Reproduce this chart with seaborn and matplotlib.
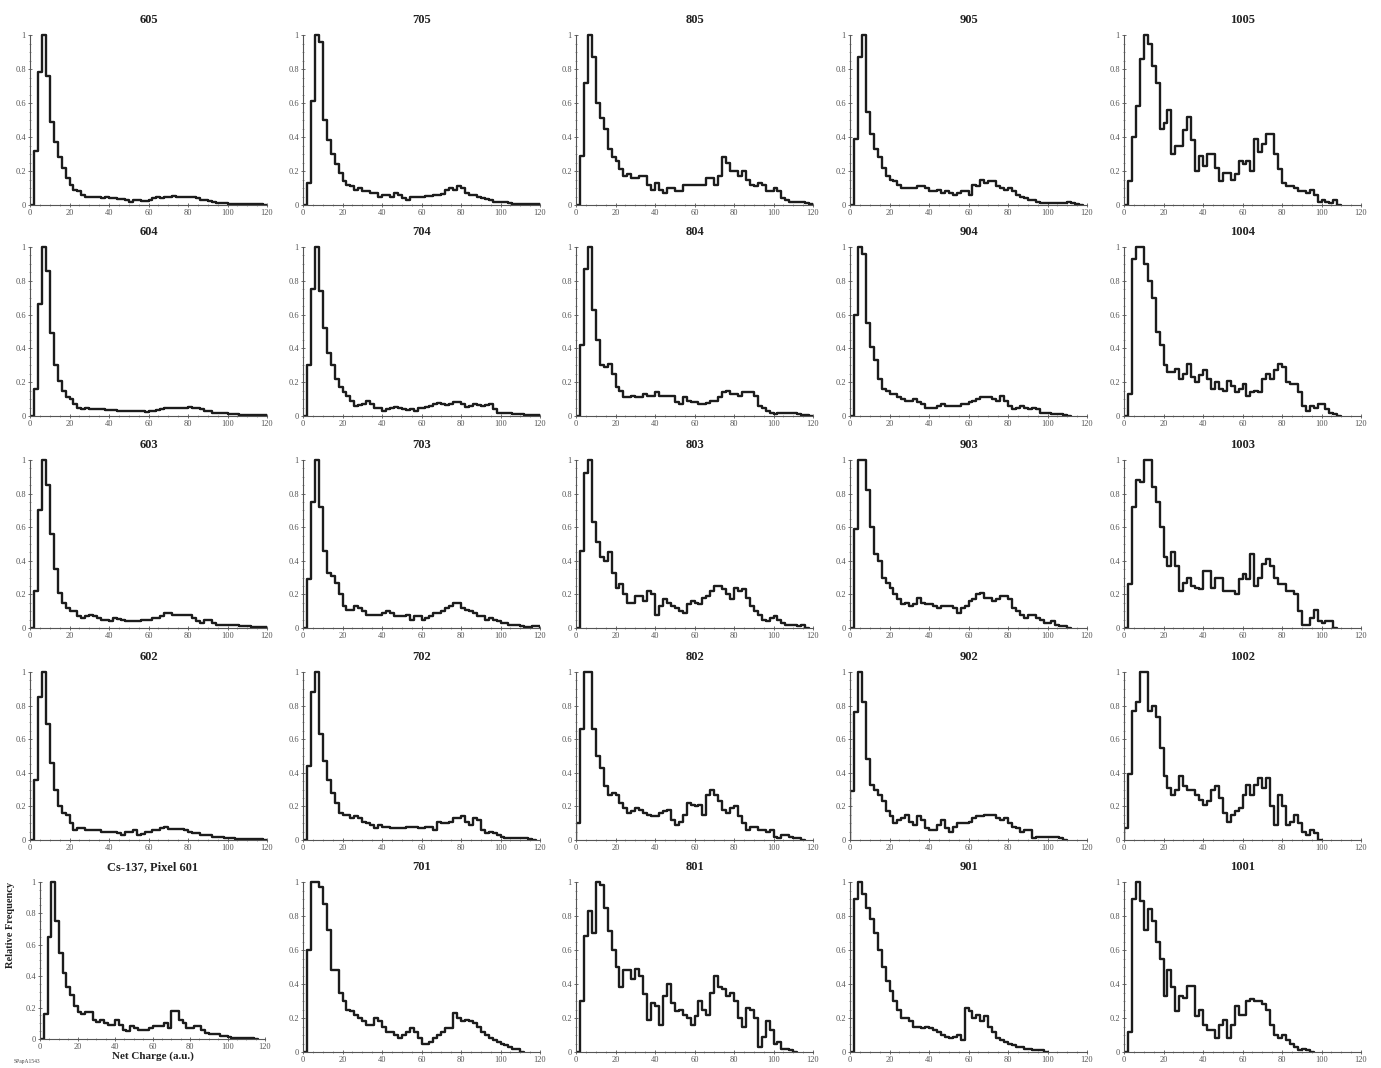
import numpy as np
import pandas as pd
import matplotlib
matplotlib.use("Agg")
import matplotlib.pyplot as plt
from matplotlib.ticker import AutoMinorLocator, FuncFormatter
import seaborn as sns

# ---------------- data (relative frequency per 2-unit bin) ----------------
BIN_W = 2

h605 = [0.32, 0.78, 1.0, 0.76, 0.49, 0.37, 0.28, 0.22, 0.16, 0.12,
        0.09, 0.08, 0.06, 0.05, 0.045, 0.045, 0.045, 0.04, 0.045, 0.04,
        0.04, 0.035, 0.035, 0.03, 0.02, 0.03, 0.03, 0.025, 0.025, 0.03,
        0.04, 0.045, 0.04, 0.05, 0.05, 0.055, 0.05, 0.05, 0.045, 0.045,
        0.05, 0.04, 0.03, 0.03, 0.025, 0.02, 0.01, 0.01, 0.01, 0.005,
        0.005, 0.005, 0.005, 0.005, 0.005, 0.003, 0.003, 0.003, 0.002]
h705 = [0.13, 0.61, 1.0, 0.96, 0.5, 0.38, 0.3, 0.24, 0.19, 0.14,
        0.12, 0.11, 0.09, 0.1, 0.08, 0.08, 0.07, 0.07, 0.05, 0.06,
        0.06, 0.05, 0.07, 0.06, 0.04, 0.03, 0.05, 0.05, 0.05, 0.05,
        0.055, 0.055, 0.06, 0.06, 0.065, 0.09, 0.1, 0.09, 0.11, 0.1,
        0.07, 0.06, 0.06, 0.05, 0.04, 0.035, 0.03, 0.02, 0.02, 0.02,
        0.015, 0.01, 0.005, 0.005, 0.005, 0.003, 0.003, 0.003, 0.003]
h805 = [0.29, 0.72, 1.0, 0.87, 0.6, 0.51, 0.45, 0.33, 0.28, 0.26,
        0.21, 0.17, 0.18, 0.16, 0.16, 0.17, 0.17, 0.12, 0.09, 0.13,
        0.09, 0.07, 0.1, 0.1, 0.08, 0.08, 0.12, 0.12, 0.12, 0.12,
        0.12, 0.12, 0.16, 0.16, 0.12, 0.17, 0.28, 0.25, 0.2, 0.2,
        0.17, 0.2, 0.15, 0.12, 0.11, 0.13, 0.12, 0.08, 0.08, 0.1,
        0.08, 0.04, 0.03, 0.02, 0.02, 0.015, 0.015, 0.01, 0.005]
h905 = [0.39, 0.87, 1.0, 0.55, 0.42, 0.33, 0.28, 0.22, 0.17, 0.15,
        0.14, 0.12, 0.1, 0.1, 0.1, 0.1, 0.11, 0.11, 0.1, 0.08,
        0.08, 0.09, 0.07, 0.08, 0.07, 0.06, 0.07, 0.08, 0.08, 0.06,
        0.12, 0.11, 0.15, 0.13, 0.14, 0.14, 0.11, 0.1, 0.09, 0.1,
        0.08, 0.06, 0.05, 0.04, 0.03, 0.03, 0.02, 0.01, 0.01, 0.01,
        0.01, 0.01, 0.01, 0.01, 0.015, 0.01, 0.005]
h1005 = [0.14, 0.4, 0.58, 0.86, 1.0, 0.95, 0.82, 0.72, 0.45, 0.48,
         0.56, 0.3, 0.35, 0.35, 0.44, 0.52, 0.38, 0.2, 0.29, 0.23,
         0.3, 0.3, 0.22, 0.14, 0.19, 0.19, 0.15, 0.18, 0.26, 0.24,
         0.26, 0.2, 0.39, 0.31, 0.36, 0.42, 0.42, 0.3, 0.21, 0.13,
         0.11, 0.11, 0.1, 0.08, 0.08, 0.07, 0.09, 0.06, 0.02, 0.03,
         0.02, 0.01, 0.03]

h604 = [0.16, 0.66, 1.0, 0.86, 0.49, 0.3, 0.21, 0.15, 0.11, 0.1,
        0.07, 0.05, 0.04, 0.05, 0.04, 0.04, 0.04, 0.04, 0.035, 0.035,
        0.035, 0.03, 0.03, 0.03, 0.03, 0.03, 0.03, 0.03, 0.025, 0.03,
        0.03, 0.035, 0.04, 0.045, 0.05, 0.05, 0.05, 0.045, 0.05, 0.055,
        0.05, 0.045, 0.04, 0.03, 0.03, 0.02, 0.015, 0.015, 0.015, 0.01,
        0.01, 0.01, 0.008, 0.008, 0.006, 0.005, 0.005, 0.005, 0.005]
h704 = [0.3, 0.75, 1.0, 0.74, 0.52, 0.37, 0.3, 0.22, 0.17, 0.14,
        0.12, 0.09, 0.06, 0.065, 0.07, 0.09, 0.07, 0.05, 0.05, 0.03,
        0.04, 0.05, 0.055, 0.05, 0.04, 0.035, 0.04, 0.03, 0.045, 0.05,
        0.055, 0.06, 0.07, 0.075, 0.07, 0.065, 0.07, 0.08, 0.08, 0.07,
        0.055, 0.06, 0.07, 0.065, 0.06, 0.065, 0.07, 0.04, 0.02, 0.02,
        0.02, 0.015, 0.01, 0.01, 0.01, 0.005, 0.005, 0.005, 0.005]
h804 = [0.42, 0.87, 1.0, 0.63, 0.45, 0.3, 0.29, 0.31, 0.25, 0.17,
        0.15, 0.11, 0.11, 0.12, 0.11, 0.11, 0.13, 0.12, 0.12, 0.14,
        0.12, 0.12, 0.12, 0.12, 0.08, 0.07, 0.11, 0.09, 0.08, 0.08,
        0.07, 0.07, 0.075, 0.09, 0.09, 0.11, 0.14, 0.15, 0.13, 0.13,
        0.12, 0.14, 0.14, 0.14, 0.12, 0.06, 0.05, 0.03, 0.02, 0.01,
        0.02, 0.02, 0.02, 0.015, 0.02, 0.01, 0.005, 0.005]
h904 = [0.6, 1.0, 0.96, 0.55, 0.41, 0.33, 0.22, 0.16, 0.15, 0.13,
        0.13, 0.11, 0.1, 0.09, 0.09, 0.1, 0.08, 0.07, 0.05, 0.05,
        0.05, 0.06, 0.07, 0.06, 0.06, 0.06, 0.06, 0.07, 0.07, 0.08,
        0.09, 0.1, 0.11, 0.11, 0.11, 0.1, 0.09, 0.12, 0.09, 0.06,
        0.04, 0.05, 0.06, 0.05, 0.04, 0.045, 0.04, 0.02, 0.02, 0.02,
        0.01, 0.01, 0.01, 0.005]
h1004 = [0.13, 0.93, 1.0, 1.0, 0.9, 0.8, 0.7, 0.5, 0.42, 0.3,
         0.26, 0.26, 0.28, 0.22, 0.25, 0.31, 0.23, 0.2, 0.24, 0.27,
         0.22, 0.16, 0.2, 0.16, 0.15, 0.21, 0.18, 0.14, 0.16, 0.19,
         0.12, 0.14, 0.15, 0.14, 0.22, 0.25, 0.22, 0.27, 0.31, 0.29,
         0.2, 0.19, 0.19, 0.14, 0.06, 0.03, 0.06, 0.05, 0.07, 0.07,
         0.04, 0.02, 0.01]

h603 = [0.22, 0.7, 1.0, 0.85, 0.56, 0.35, 0.21, 0.15, 0.12, 0.1,
        0.1, 0.07, 0.06, 0.07, 0.08, 0.07, 0.06, 0.05, 0.05, 0.04,
        0.06, 0.055, 0.045, 0.04, 0.04, 0.04, 0.04, 0.045, 0.05, 0.05,
        0.06, 0.06, 0.07, 0.09, 0.09, 0.08, 0.08, 0.08, 0.08, 0.08,
        0.06, 0.04, 0.03, 0.05, 0.045, 0.03, 0.02, 0.02, 0.015, 0.015,
        0.015, 0.015, 0.01, 0.01, 0.01, 0.008, 0.005, 0.005, 0.005]
h703 = [0.29, 0.75, 1.0, 0.72, 0.46, 0.33, 0.31, 0.27, 0.2, 0.13,
        0.11, 0.11, 0.13, 0.12, 0.1, 0.08, 0.08, 0.08, 0.08, 0.09,
        0.1, 0.09, 0.07, 0.07, 0.07, 0.08, 0.05, 0.07, 0.07, 0.05,
        0.06, 0.07, 0.09, 0.09, 0.1, 0.12, 0.13, 0.15, 0.15, 0.12,
        0.11, 0.1, 0.09, 0.07, 0.07, 0.05, 0.06, 0.05, 0.04, 0.03,
        0.03, 0.02, 0.015, 0.015, 0.01, 0.005, 0.005, 0.01, 0.01]
h803 = [0.46, 0.92, 1.0, 0.63, 0.51, 0.42, 0.4, 0.45, 0.33, 0.24,
        0.26, 0.2, 0.15, 0.15, 0.19, 0.19, 0.16, 0.22, 0.2, 0.08,
        0.13, 0.17, 0.15, 0.13, 0.12, 0.1, 0.09, 0.14, 0.16, 0.15,
        0.14, 0.18, 0.19, 0.22, 0.25, 0.25, 0.23, 0.2, 0.17, 0.24,
        0.22, 0.23, 0.18, 0.13, 0.1, 0.08, 0.05, 0.04, 0.06, 0.07,
        0.05, 0.03, 0.02, 0.02, 0.015, 0.01, 0.02]
h903 = [0.59, 1.0, 1.0, 0.82, 0.6, 0.44, 0.4, 0.3, 0.27, 0.24,
        0.2, 0.17, 0.14, 0.15, 0.13, 0.14, 0.18, 0.15, 0.14, 0.14,
        0.13, 0.12, 0.13, 0.13, 0.13, 0.12, 0.09, 0.12, 0.13, 0.16,
        0.17, 0.2, 0.21, 0.18, 0.18, 0.16, 0.17, 0.19, 0.19, 0.17,
        0.12, 0.1, 0.08, 0.06, 0.08, 0.08, 0.06, 0.05, 0.03, 0.03,
        0.04, 0.02, 0.01, 0.01]
h1003 = [0.26, 0.72, 0.88, 0.87, 1.0, 1.0, 0.84, 0.75, 0.6, 0.42,
         0.37, 0.45, 0.37, 0.22, 0.27, 0.3, 0.25, 0.24, 0.23, 0.34,
         0.34, 0.24, 0.3, 0.3, 0.22, 0.22, 0.22, 0.2, 0.29, 0.32,
         0.29, 0.44, 0.25, 0.3, 0.38, 0.41, 0.37, 0.3, 0.26, 0.26,
         0.22, 0.22, 0.2, 0.1, 0.02, 0.02, 0.06, 0.11, 0.04, 0.03,
         0.04, 0.04]

h602 = [0.36, 0.85, 1.0, 0.69, 0.46, 0.3, 0.2, 0.16, 0.15, 0.1,
        0.06, 0.07, 0.07, 0.06, 0.06, 0.06, 0.06, 0.05, 0.05, 0.05,
        0.05, 0.04, 0.03, 0.045, 0.05, 0.06, 0.03, 0.035, 0.045, 0.05,
        0.06, 0.06, 0.07, 0.075, 0.065, 0.065, 0.065, 0.065, 0.06, 0.05,
        0.04, 0.04, 0.03, 0.03, 0.03, 0.02, 0.02, 0.02, 0.01, 0.01,
        0.01, 0.008, 0.008, 0.006, 0.005, 0.005, 0.005, 0.005]
h702 = [0.44, 0.88, 1.0, 0.63, 0.47, 0.36, 0.28, 0.22, 0.16, 0.15,
        0.15, 0.13, 0.14, 0.13, 0.11, 0.1, 0.09, 0.07, 0.09, 0.08,
        0.08, 0.07, 0.07, 0.07, 0.07, 0.075, 0.08, 0.075, 0.07, 0.07,
        0.08, 0.075, 0.06, 0.11, 0.1, 0.1, 0.11, 0.13, 0.13, 0.14,
        0.11, 0.09, 0.13, 0.12, 0.06, 0.04, 0.05, 0.04, 0.03, 0.02,
        0.01, 0.01, 0.01, 0.01, 0.01, 0.01, 0.005]
h802 = [0.1, 0.66, 1.0, 1.0, 0.66, 0.5, 0.43, 0.32, 0.27, 0.28,
        0.27, 0.22, 0.19, 0.16, 0.17, 0.19, 0.18, 0.16, 0.15, 0.14,
        0.14, 0.16, 0.17, 0.18, 0.12, 0.09, 0.11, 0.15, 0.22, 0.21,
        0.2, 0.21, 0.15, 0.27, 0.3, 0.27, 0.23, 0.18, 0.16, 0.19,
        0.2, 0.14, 0.1, 0.06, 0.08, 0.08, 0.06, 0.06, 0.05, 0.06,
        0.02, 0.01, 0.03, 0.03, 0.02, 0.01, 0.01]
h902 = [0.29, 0.76, 1.0, 0.82, 0.48, 0.33, 0.3, 0.27, 0.23, 0.17,
        0.14, 0.1, 0.12, 0.13, 0.15, 0.11, 0.09, 0.14, 0.12, 0.07,
        0.06, 0.06, 0.09, 0.12, 0.07, 0.05, 0.08, 0.1, 0.1, 0.1,
        0.11, 0.13, 0.14, 0.14, 0.15, 0.15, 0.15, 0.13, 0.12, 0.13,
        0.1, 0.08, 0.07, 0.05, 0.06, 0.06, 0.01, 0.015, 0.015, 0.015,
        0.015, 0.02, 0.02, 0.01]
h1002 = [0.07, 0.39, 0.77, 0.82, 1.0, 1.0, 0.77, 0.8, 0.73, 0.55,
         0.38, 0.31, 0.27, 0.3, 0.38, 0.32, 0.3, 0.3, 0.27, 0.24,
         0.21, 0.23, 0.3, 0.32, 0.25, 0.16, 0.11, 0.15, 0.17, 0.19,
         0.27, 0.33, 0.27, 0.33, 0.37, 0.31, 0.37, 0.2, 0.09, 0.27,
         0.2, 0.09, 0.11, 0.15, 0.1, 0.05, 0.03, 0.06, 0.04]

h601 = [0.16, 0.65, 1.0, 0.75, 0.55, 0.42, 0.33, 0.28, 0.21, 0.17,
        0.16, 0.17, 0.17, 0.12, 0.11, 0.12, 0.1, 0.09, 0.09, 0.12,
        0.09, 0.06, 0.05, 0.08, 0.07, 0.06, 0.06, 0.06, 0.07, 0.08,
        0.08, 0.08, 0.1, 0.07, 0.18, 0.18, 0.12, 0.1, 0.07, 0.07,
        0.08, 0.08, 0.06, 0.04, 0.03, 0.03, 0.03, 0.02, 0.02, 0.01,
        0.005, 0.005, 0.005, 0.005, 0.005, 0.005]
h701 = [0.6, 1.0, 1.0, 0.97, 0.87, 0.72, 0.48, 0.48, 0.35, 0.3,
        0.25, 0.24, 0.22, 0.2, 0.18, 0.16, 0.16, 0.2, 0.18, 0.15,
        0.12, 0.12, 0.1, 0.08, 0.1, 0.12, 0.14, 0.12, 0.08, 0.05,
        0.05, 0.06, 0.08, 0.1, 0.12, 0.14, 0.14, 0.23, 0.2, 0.18,
        0.19, 0.18, 0.17, 0.15, 0.12, 0.1, 0.08, 0.07, 0.06, 0.05,
        0.04, 0.03, 0.02, 0.02]
h801 = [0.3, 0.68, 0.83, 0.7, 1.0, 0.98, 0.85, 0.71, 0.6, 0.5,
        0.38, 0.48, 0.48, 0.43, 0.49, 0.45, 0.34, 0.19, 0.29, 0.27,
        0.16, 0.33, 0.4, 0.29, 0.24, 0.25, 0.22, 0.2, 0.16, 0.21,
        0.3, 0.25, 0.22, 0.35, 0.45, 0.38, 0.37, 0.33, 0.35, 0.3,
        0.2, 0.15, 0.26, 0.25, 0.2, 0.03, 0.09, 0.18, 0.13, 0.05,
        0.06, 0.02, 0.02, 0.01]
h901 = [0.9, 1.0, 0.93, 0.85, 0.78, 0.7, 0.6, 0.5, 0.42, 0.36,
        0.3, 0.25, 0.2, 0.2, 0.18, 0.15, 0.15, 0.14, 0.15, 0.14,
        0.13, 0.12, 0.1, 0.09, 0.08, 0.09, 0.1, 0.07, 0.26, 0.24,
        0.2, 0.22, 0.18, 0.21, 0.15, 0.12, 0.08, 0.07, 0.06, 0.05,
        0.04, 0.03, 0.03, 0.02, 0.02, 0.01, 0.01, 0.01]
h1001 = [0.12, 0.9, 1.0, 0.89, 0.72, 0.84, 0.77, 0.65, 0.55, 0.33,
         0.48, 0.38, 0.24, 0.33, 0.32, 0.39, 0.39, 0.21, 0.25, 0.16,
         0.13, 0.13, 0.08, 0.16, 0.19, 0.08, 0.16, 0.27, 0.22, 0.22,
         0.3, 0.31, 0.3, 0.3, 0.28, 0.25, 0.16, 0.1, 0.08, 0.1,
         0.07, 0.05, 0.03, 0.01, 0.02, 0.01]

# grid of panels (rows top -> bottom), titles, and first bin edge of each series
titles = [["605", "705", "805", "905", "1005"],
          ["604", "704", "804", "904", "1004"],
          ["603", "703", "803", "903", "1003"],
          ["602", "702", "802", "902", "1002"],
          ["Cs-137, Pixel 601", "701", "801", "901", "1001"]]
series = [[h605, h705, h805, h905, h1005],
          [h604, h704, h804, h904, h1004],
          [h603, h703, h803, h903, h1003],
          [h602, h702, h802, h902, h1002],
          [h601, h701, h801, h901, h1001]]
bin_start = [[2, 2, 2, 2, 2],
             [2, 2, 2, 2, 2],
             [2, 2, 2, 2, 2],
             [2, 2, 0, 0, 0],
             [2, 2, 2, 2, 2]]
x_ticks = [0, 20, 40, 60, 80, 100, 120]
y_ticks = [0, 0.2, 0.4, 0.6, 0.8, 1.0]

# ---------------- figure ----------------
sns.set_theme(style="ticks")
plt.rcParams["font.family"] = ["Liberation Serif", "DejaVu Serif"]

W, H = 1381, 1068
fig = plt.figure(figsize=(W / 100, H / 100), dpi=100)

col_left = [30, 303, 576, 850, 1124]
col_w = 237
row_top = [33, 245, 458, 670, 880]
row_bot = [205, 416, 628, 840, 1052]

fmt = FuncFormatter(lambda v, p: f"{v:g}")
line_col = "#1c1c1c"

for r in range(5):
    for c in range(5):
        left = col_left[c]
        width = col_w
        top, bot = row_top[r], row_bot[r]
        corner = (r == 4 and c == 0)
        if corner:
            left, width, bot = 40, 225, 1039
        ax = fig.add_axes([left / W, 1 - bot / H, width / W, (bot - top) / H])
        vals = np.array(series[r][c], dtype=float)
        s = bin_start[r][c]
        # pad with a zero-weight bin on each side so the outline rises from / falls to zero
        weights = np.concatenate([[0.0], vals, [0.0]])
        lo = s - BIN_W
        hi = lo + BIN_W * len(weights)
        centers = lo + BIN_W * (np.arange(len(weights)) + 0.5)
        df = pd.DataFrame({"charge": centers, "freq": weights})
        sns.histplot(data=df, x="charge", weights="freq",
                     binwidth=BIN_W, binrange=(lo, hi),
                     element="step", fill=False, color=line_col,
                     linewidth=1.7, ax=ax)
        ax.set_xlim(0, 120)
        ax.set_ylim(0, 1.012)
        ax.spines["left"].set_bounds(0, 1)
        sns.despine(ax=ax)
        for sp in ("left", "bottom"):
            ax.spines[sp].set_linewidth(0.8)
            ax.spines[sp].set_color("#555555")
        ax.set_xticks(x_ticks)
        ax.set_yticks(y_ticks)
        ax.xaxis.set_major_formatter(fmt)
        ax.yaxis.set_major_formatter(fmt)
        ax.xaxis.set_minor_locator(AutoMinorLocator(4))
        ax.yaxis.set_minor_locator(AutoMinorLocator(4))
        ax.tick_params(axis="both", which="major", length=3, width=0.6,
                       labelsize=6, colors="#555555", pad=1.5, direction="inout")
        ax.tick_params(axis="both", which="minor", length=1.8, width=0.5,
                       colors="#777777", direction="inout")
        ax.set_title(titles[r][c], fontsize=9, fontweight="bold", pad=7,
                     color="#222222")
        if corner:
            ax.set_ylabel("Relative Frequency", fontsize=7.5,
                          fontweight="bold", color="#222222")
            ax.yaxis.set_label_coords(-0.11, 0.72)
            ax.set_xlabel("Net Charge (a.u.)", fontsize=8,
                          fontweight="bold", labelpad=0, color="#222222")
        else:
            ax.set_ylabel("")
            ax.set_xlabel("")

fig.text(14 / W, 1 - 1062 / H, "SPapA1543", fontsize=4, color="#444444",
         va="center", ha="left")

fig.savefig("out.png", dpi=100, facecolor="white")
